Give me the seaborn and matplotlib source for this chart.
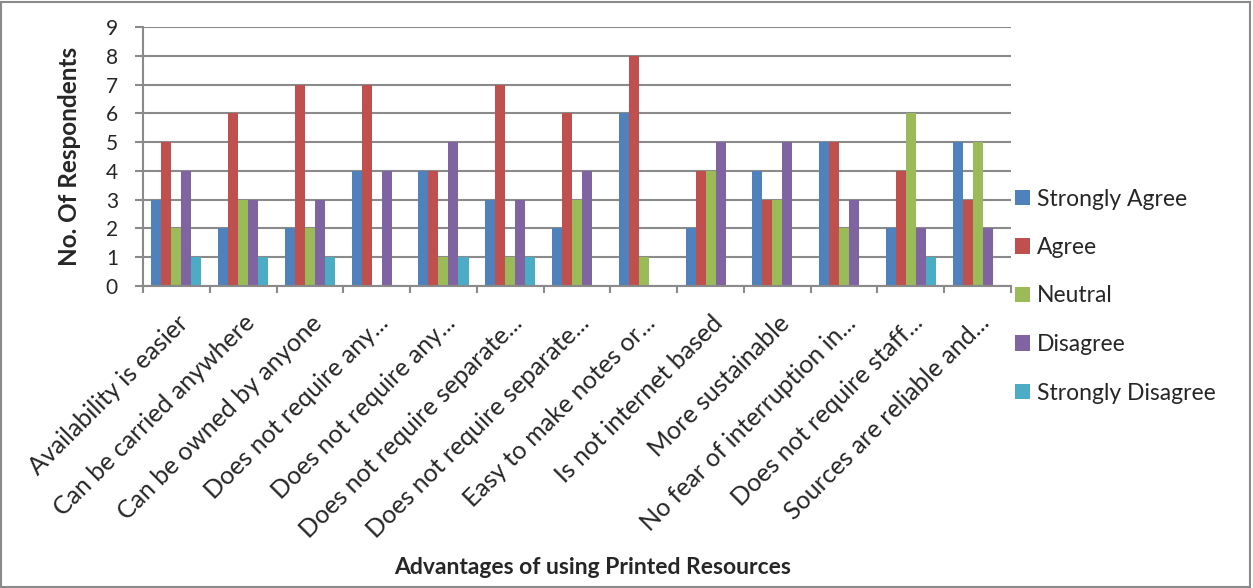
import matplotlib
matplotlib.use("Agg")
import matplotlib.pyplot as plt
import seaborn as sns
import pandas as pd
from matplotlib.patches import Rectangle

categories = [
    "Availability is easier",
    "Can be carried anywhere",
    "Can be owned by anyone",
    "Does not require any...",
    "Does not require any...",
    "Does not require separate...",
    "Does not require separate...",
    "Easy to make notes or...",
    "Is not internet based",
    "More sustainable",
    "No fear of interruption in...",
    "Does not require staff...",
    "Sources are reliable and...",
]
series = ["Strongly Agree", "Agree", "Neutral", "Disagree", "Strongly Disagree"]
strongly_agree = [3, 2, 2, 4, 4, 3, 2, 6, 2, 4, 5, 2, 5]
agree = [5, 6, 7, 7, 4, 7, 6, 8, 4, 3, 5, 4, 3]
neutral = [2, 3, 2, 0, 1, 1, 3, 1, 4, 3, 2, 6, 5]
disagree = [4, 3, 3, 4, 5, 3, 4, 0, 5, 5, 3, 2, 2]
strongly_disagree = [1, 1, 1, 0, 1, 1, 0, 0, 0, 0, 0, 1, 0]
colors = ["#4F81BD", "#C0504D", "#9BBB59", "#8064A2", "#4BACC6"]

values = [strongly_agree, agree, neutral, disagree, strongly_disagree]
rows = []
for s, vals in zip(series, values):
    for i, v in enumerate(vals):
        rows.append({"idx": i, "series": s, "value": v})
df = pd.DataFrame(rows)

sns.set_style("white")
plt.rcParams["font.family"] = ["Lato", "DejaVu Sans"]

W, H = 1253, 588
fig = plt.figure(figsize=(W / 100, H / 100), dpi=100)
ax = fig.add_axes([143 / W, 1 - 286 / H, (1011 - 143) / W, (286 - 27) / H])

sns.barplot(data=df, x="idx", y="value", hue="series", hue_order=series,
            palette=colors, width=0.75, gap=0, ax=ax, errorbar=None,
            saturation=1, linewidth=0)

ax.set_ylim(0, 9)
ax.set_xlim(-0.5, len(categories) - 0.5)
ax.set_yticks(range(10))
ax.yaxis.grid(True, color="#8a8a8a", linewidth=1.5)
ax.set_axisbelow(True)
ax.tick_params(axis="y", labelsize=15, length=6, color="#8a8a8a", width=1.5, left=True, pad=12)
ax.set_xticks(range(len(categories)))
ax.set_xticklabels(categories, rotation=45, ha="right", rotation_mode="anchor", fontsize=18)
ax.tick_params(axis="x", which="major", length=0, pad=18)
ax.set_xticks([i - 0.5 for i in range(len(categories) + 1)], minor=True)
ax.tick_params(axis="x", which="minor", length=5, color="#8a8a8a", width=1.5, bottom=True)
for side in ["top", "right"]:
    ax.spines[side].set_visible(False)
for side in ["left", "bottom"]:
    ax.spines[side].set_color("#8a8a8a")
    ax.spines[side].set_linewidth(1.5)

ax.set_ylabel("No. Of Respondents", fontsize=17.5, fontweight="bold")
ax.yaxis.set_label_coords(-0.071, 0.5)
ax.set_xlabel("")
fig.text(593 / W, 1 - 568 / H, "Advantages of using Printed Resources",
         ha="center", va="center", fontsize=16.5, fontweight="bold")

ax.legend(loc="center left", bbox_to_anchor=(994 / W, 1 - 296 / H),
          bbox_transform=fig.transFigure, frameon=False, fontsize=16.5,
          handlelength=0.67, handleheight=0.67, labelspacing=1.2,
          handletextpad=0.3)

fig.add_artist(Rectangle((0.001, 0.002), 0.997, 0.995, transform=fig.transFigure,
                         fill=False, edgecolor="#8a8a8a", linewidth=1.5))

fig.savefig("out.png", dpi=100)
